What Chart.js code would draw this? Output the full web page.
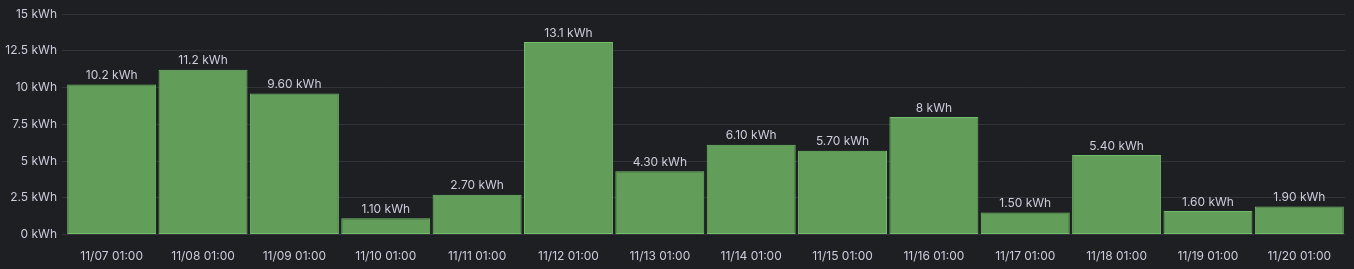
<!DOCTYPE html>
<html>
<head>
<meta charset="utf-8">
<script src="https://cdn.jsdelivr.net/npm/chart.js@4/dist/chart.umd.min.js"></script>
<style>
  html, body { margin: 0; padding: 0; background: #1e1f23; }
  #wrap { width: 1354px; height: 269px; position: relative; }
  canvas { display: block; }
</style>
</head>
<body>
<div id="wrap"><canvas id="c" width="1354" height="269"></canvas></div>
<script>
// Daily energy readings
const categories = ['11/07 01:00', '11/08 01:00', '11/09 01:00', '11/10 01:00', '11/11 01:00', '11/12 01:00', '11/13 01:00',
                    '11/14 01:00', '11/15 01:00', '11/16 01:00', '11/17 01:00', '11/18 01:00', '11/19 01:00', '11/20 01:00'];
const energyKWh = [10.2, 11.2, 9.6, 1.1, 2.7, 13.1, 4.3, 6.1, 5.7, 8, 1.5, 5.4, 1.6, 1.9];
const yTicks = [0, 2.5, 5, 7.5, 10, 12.5, 15];

const TEXT = '#ccccdc';
const FONT = { family: 'Inter, "Noto Sans", sans-serif', size: 12 };

function fmtValue(v) {
  return (Number.isInteger(v) ? String(v) : v.toPrecision(3)) + ' kWh';
}

// Draws each bar's value just above its top edge
const valueLabels = {
  id: 'valueLabels',
  afterDatasetsDraw(chart) {
    const ctx = chart.ctx;
    const meta = chart.getDatasetMeta(0);
    ctx.save();
    ctx.fillStyle = TEXT;
    ctx.font = FONT.size + 'px ' + FONT.family;
    ctx.textAlign = 'center';
    ctx.textBaseline = 'bottom';
    meta.data.forEach((bar, i) => {
      ctx.fillText(fmtValue(energyKWh[i]), bar.x, bar.y - 3);
    });
    ctx.restore();
  }
};

new Chart(document.getElementById('c'), {
  type: 'bar',
  data: {
    labels: categories,
    datasets: [{
      data: energyKWh,
      backgroundColor: '#629e5a',
      borderColor: '#73bf69',
      borderWidth: 1,
      borderSkipped: false,
      categoryPercentage: 1,
      barPercentage: 0.974
    }]
  },
  options: {
    responsive: false,
    animation: false,
    layout: { padding: { left: 0, right: 9, top: 14, bottom: 0 } },
    plugins: { legend: { display: false }, tooltip: { enabled: false } },
    scales: {
      x: {
        grid: { display: false, drawTicks: false },
        border: { display: false },
        ticks: { color: TEXT, font: FONT, padding: 15, maxRotation: 0, autoSkip: false },
        afterFit(s) { s.height = 34.5; }
      },
      y: {
        min: 0,
        max: 15,
        afterBuildTicks(s) { s.ticks = yTicks.map(v => ({ value: v })); },
        grid: { color: 'rgba(204,204,220,0.12)', tickLength: 4, tickColor: 'rgba(204,204,220,0.12)' },
        border: { display: false },
        ticks: { color: TEXT, font: FONT, padding: 5, callback: v => v + ' kWh' },
        afterFit(s) { s.width = 66; }
      }
    }
  },
  plugins: [valueLabels]
});
</script>
</body>
</html>
